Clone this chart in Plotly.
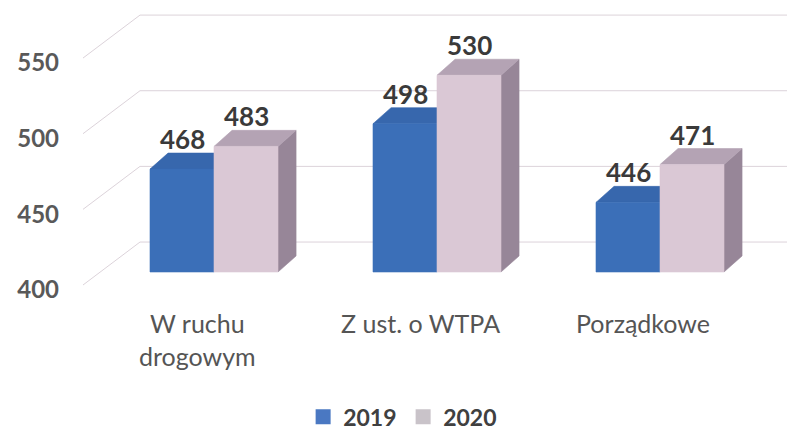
import plotly.graph_objects as go

# ---- data ----
categories = ["W ruchu<br>drogowym", "Z ust. o WTPA", "Porządkowe"]
years = ["2019", "2020"]
values_2019 = [468, 498, 446]
values_2020 = [483, 530, 471]
y_ticks = [400, 450, 500, 550]

# ---- styling / geometry (axis units) ----
BASE = 400
LIFT = 8.6        # bars sit slightly behind the front plane
W = 0.287         # bar width
DX, DY = 0.081, 10.6      # bar depth
GDX, GDY = 0.2556, 28.4   # back-wall depth
X_LEFT, X_RIGHT = -0.5874, 2.60
LABEL_SHIFT = -0.075

colors = {
    "2019": {"front": "#3b6fb8", "top": "#3767ad", "side": "#2a528f", "legend": "#4a78c2"},
    "2020": {"front": "#dac8d5", "top": "#b4a3b4", "side": "#978698", "legend": "#c9c3c9"},
}
FONT = "Lato"

fig = go.Figure()

# back-wall gridlines
for v in y_ticks:
    fig.add_trace(go.Scatter(
        x=[X_LEFT, X_LEFT + GDX, X_RIGHT],
        y=[v, v + GDY, v + GDY],
        mode="lines", line=dict(color="#dcd3da", width=1),
        hoverinfo="skip", showlegend=False))


def poly(xs, ys, color):
    fig.add_trace(go.Scatter(
        x=xs + [xs[0]], y=ys + [ys[0]], fill="toself", fillcolor=color,
        mode="lines", line=dict(color=color, width=0.6),
        hoverinfo="skip", showlegend=False))


series = {"2019": values_2019, "2020": values_2020}
for i in range(len(categories)):
    for j, yr in enumerate(years):
        val = series[yr][i]
        x0 = i - W + j * W
        x1 = x0 + W
        b = BASE + LIFT
        t = val + LIFT
        c = colors[yr]
        # side
        poly([x1, x1, x1 + DX, x1 + DX], [b, t, t + DY, b + DY], c["side"])
        # top
        poly([x0, x1, x1 + DX, x0 + DX], [t, t, t + DY, t + DY], c["top"])
        # front
        poly([x0, x1, x1, x0], [b, b, t, t], c["front"])
        fig.add_annotation(
            x=(x0 + x1) / 2, y=t + DY, text=str(val), showarrow=False,
            yanchor="bottom", yshift=-4,
            font=dict(family=FONT, size=26, color="#3a3a3a", weight="bold"))

# category labels
for i, name in enumerate(categories):
    fig.add_annotation(
        x=i + LABEL_SHIFT, y=0, yref="paper", text=name, showarrow=False,
        yanchor="top", yshift=-6,
        font=dict(family=FONT, size=25, color="#555555"))

# legend entries
for yr in years:
    fig.add_trace(go.Scatter(
        x=[None], y=[None], mode="markers", name=yr,
        marker=dict(symbol="square", size=15, color=colors[yr]["legend"])))

fig.update_layout(
    width=787, height=424,
    margin=dict(l=52, r=0, t=0, b=132, autoexpand=False),
    paper_bgcolor="#ffffff", plot_bgcolor="#ffffff",
    xaxis=dict(range=[-0.6906, 2.6054], showgrid=False, zeroline=False,
               showticklabels=False, showline=False, fixedrange=True,
               automargin=False),
    yaxis=dict(range=[390.09, 583.08], tickvals=y_ticks, showgrid=False,
               zeroline=False, showline=False, ticks="", automargin=False,
               ticklabelshift=5,
               tickfont=dict(family=FONT, size=24, color="#595959", weight="bold"),
               fixedrange=True),
    legend=dict(orientation="h", xref="container", yref="container",
                x=0.375, xanchor="left", y=0.036, yanchor="middle",
                entrywidth=55,
                font=dict(family=FONT, size=23, color="#404040", weight="bold"),
                itemclick=False, itemdoubleclick=False),
    showlegend=True,
)

fig.write_html("out.html")
